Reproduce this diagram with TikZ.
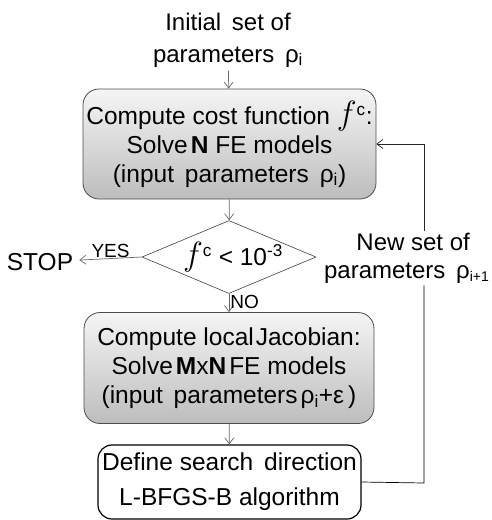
\documentclass[tikz,border=0pt]{standalone}
\usepackage{fontspec}
\setmainfont{Liberation Sans}
\usetikzlibrary{shapes.geometric,arrows.meta}
\newcommand{\costf}{\scalebox{1.35}{$f$}\textsuperscript{c}}

\begin{document}
\begin{tikzpicture}[x=1pt,y=-1pt,
  every node/.style={font=\fontsize{24.5}{29}\selectfont},
  gbox/.style={draw=black!70, line width=0.8pt, rounded corners=16pt,
    top color=black!4, bottom color=black!26,
    minimum width=293pt, minimum height=110pt, align=center},
  wbox/.style={draw=black, line width=1.2pt, rounded corners=14pt, fill=white,
    minimum width=263pt, minimum height=74pt, align=center},
  test/.style={draw=black!75, line width=0.6pt, diamond, inner sep=0pt,
    minimum width=174pt, minimum height=73pt},
  arr/.style={draw=black!60, line width=0.7pt, -{Straight Barb[length=6pt,width=9pt]}},
  small/.style={font=\fontsize{19}{22}\selectfont, inner sep=1pt}]
\useasboundingbox (0,0) rectangle (491,520);

\node[align=center, font=\fontsize{24}{32}\selectfont] (init) at (228,40)
  {Initial\, set of\\parameters\, ρ\textsubscript{i}};
\node[gbox] (cost) at (229.5,144)
  {Compute cost function \costf:\\
   Solve\hspace{3pt}\textbf{N} FE models\\
   (input\, parameters\, ρ\textsubscript{i})};
\node[test] (stop?) at (229,257) {};
\node at (233,257) {\costf{} < 10\textsuperscript{-3}};
\node[inner sep=6pt] (stop) at (40,262) {STOP};
\node[gbox, minimum width=290pt, minimum height=111pt] (jac) at (229,368)
  {Compute local\hspace{2pt}Jacobian:\\
   Solve\hspace{3pt}\textbf{M}x\textbf{N}\hspace{3pt}FE models\\
   (input\, parameters\hspace{3pt}ρ\textsubscript{i}+ε\,)};
\node[wbox, font=\fontsize{24.5}{35}\selectfont] (dir) at (229.5,482)
  {Define search\, direction\\L-BFGS-B algorithm};
\node[align=right, anchor=east, inner sep=2pt, font=\fontsize{24}{28}\selectfont]
  (newset) at (472,258)
  {New set of\\parameters\, ρ\rlap{\fontsize{14}{14}\selectfont\raisebox{-3pt}{i+1}}};

\coordinate (fb) at (424,483);

\draw[arr] (init) -- (cost);
\draw[arr] (cost) -- (stop?);
\draw[arr] (stop?.west) -- node[small, above] {YES} (stop);
\draw[arr] (stop?.south) -- node[small, right, pos=0.45] {NO} (jac);
\draw[arr] (jac) -- (dir);
\draw[line width=0.7pt] (dir.east) -- (fb) -- (fb |- newset.south);
\draw[arr, draw=black!85] (fb |- newset.north) -- (fb |- cost.east) -- (cost.east);
\end{tikzpicture}
\end{document}
